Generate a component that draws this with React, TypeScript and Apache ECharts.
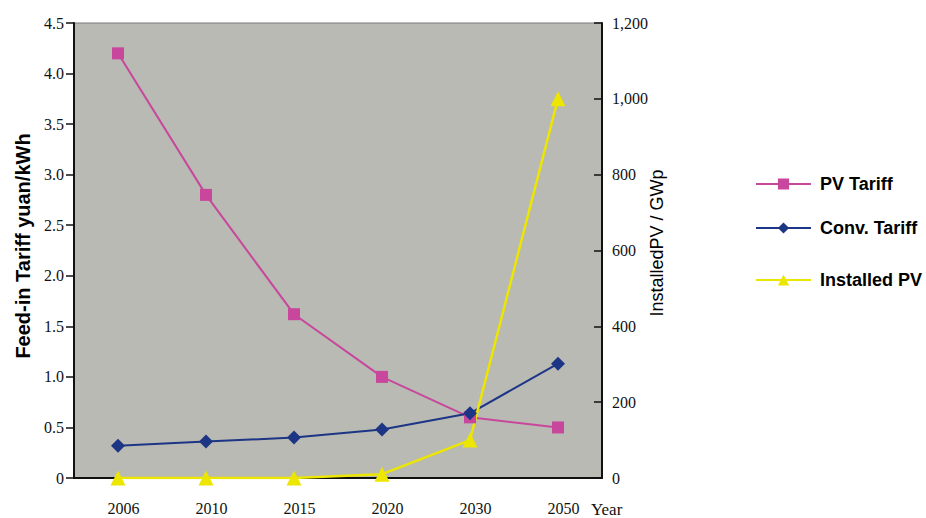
import React, { useEffect, useRef } from "react";
import * as echarts from "echarts";

const years = ["2006", "2010", "2015", "2020", "2030", "2050"];
const pvTariff = [4.2, 2.8, 1.62, 1.0, 0.6, 0.5];
const convTariff = [0.32, 0.36, 0.4, 0.48, 0.64, 1.13];
const installedPV = [0, 0, 0, 10, 100, 1000];

const PINK = "#c8479c";
const NAVY = "#1d3585";
const YELLOW = "#ece600";
const SERIF = "'Liberation Serif', 'Times New Roman', serif";
const SANS = "'Liberation Sans', Arial, sans-serif";

export default function App() {
  const ref = useRef<HTMLDivElement>(null);

  useEffect(() => {
    if (!ref.current) return;
    const chart = echarts.init(ref.current, null, { renderer: "svg" });

    const legendItem = (name: string, top: number) => ({
      data: [name],
      orient: "vertical",
      left: 755,
      top,
      padding: 0,
      itemWidth: 55,
      itemHeight: 14,
      itemGap: 8,
      textStyle: { fontFamily: SANS, fontSize: 18, fontWeight: "bold", color: "#000", padding: [0, 0, 0, 4] },
      selectedMode: false,
    });

    chart.setOption({
      animation: false,
      backgroundColor: "#ffffff",
      grid: {
        left: 74,
        right: 324,
        top: 23,
        bottom: 40,
        show: true,
        backgroundColor: "#b8bab3",
        borderColor: "#7a7a7a",
        borderWidth: 1,
      },
      legend: [
        legendItem("PV Tariff", 175),
        legendItem("Conv. Tariff", 219),
        legendItem("Installed PV", 271),
      ],
      xAxis: {
        type: "category",
        data: years,
        boundaryGap: true,
        axisLine: { lineStyle: { color: "#111", width: 2 } },
        axisTick: { inside: true, length: 8, lineStyle: { color: "#111", width: 1.5 } },
        axisLabel: {
          fontFamily: SERIF,
          fontSize: 16,
          color: "#111",
          margin: 22,
          padding: [0, 0, 0, 11],
        },
      },
      yAxis: [
        {
          type: "value",
          min: 0,
          max: 4.5,
          interval: 0.5,
          splitLine: { show: false },
          axisLine: { show: true, lineStyle: { color: "#111", width: 2 } },
          axisTick: { show: true, length: 8, lineStyle: { color: "#111", width: 1.5 } },
          axisLabel: {
            fontFamily: SERIF,
            fontSize: 16,
            color: "#111",
            margin: 10,
            formatter: (v: number) => (v === 0 ? "0" : v.toFixed(1)),
          },
        },
        {
          type: "value",
          position: "right",
          min: 0,
          max: 1200,
          interval: 200,
          splitLine: { show: false },
          axisLine: { show: true, lineStyle: { color: "#111", width: 2 } },
          axisTick: { show: true, inside: true, length: 8, lineStyle: { color: "#111", width: 1.5 } },
          axisLabel: {
            fontFamily: SERIF,
            fontSize: 16,
            color: "#111",
            margin: 10,
            formatter: (v: number) => v.toLocaleString("en-US"),
          },
        },
      ],
      graphic: [
        {
          type: "text",
          x: 23,
          y: 246,
          rotation: Math.PI / 2,
          style: {
            text: "Feed-in Tariff yuan/kWh",
            fontFamily: SANS,
            fontSize: 20,
            fontWeight: "bold",
            fill: "#000",
            align: "center",
            verticalAlign: "middle",
          },
        },
        {
          type: "text",
          x: 657,
          y: 243,
          rotation: Math.PI / 2,
          style: {
            text: "InstalledPV / GWp",
            fontFamily: SANS,
            fontSize: 18,
            fill: "#000",
            align: "center",
            verticalAlign: "middle",
          },
        },
        {
          type: "text",
          x: 591,
          y: 509,
          style: {
            text: "Year",
            fontFamily: SERIF,
            fontSize: 17,
            fill: "#111",
            align: "left",
            verticalAlign: "middle",
          },
        },
      ],
      series: [
        {
          name: "PV Tariff",
          type: "line",
          yAxisIndex: 0,
          data: pvTariff,
          symbol: "rect",
          symbolSize: 12,
          lineStyle: { color: PINK, width: 2 },
          itemStyle: { color: PINK },
        },
        {
          name: "Conv. Tariff",
          type: "line",
          yAxisIndex: 0,
          data: convTariff,
          symbol: "diamond",
          symbolSize: 14,
          lineStyle: { color: NAVY, width: 2 },
          itemStyle: { color: NAVY },
        },
        {
          name: "Installed PV",
          type: "line",
          yAxisIndex: 1,
          data: installedPV,
          symbol: "triangle",
          symbolSize: 15,
          lineStyle: { color: YELLOW, width: 2.5 },
          itemStyle: { color: YELLOW },
          z: 3,
        },
      ],
    });

    return () => chart.dispose();
  }, []);

  return <div ref={ref} style={{ width: 926, height: 518, position: "absolute", left: 0, top: 0 }} />;
}
